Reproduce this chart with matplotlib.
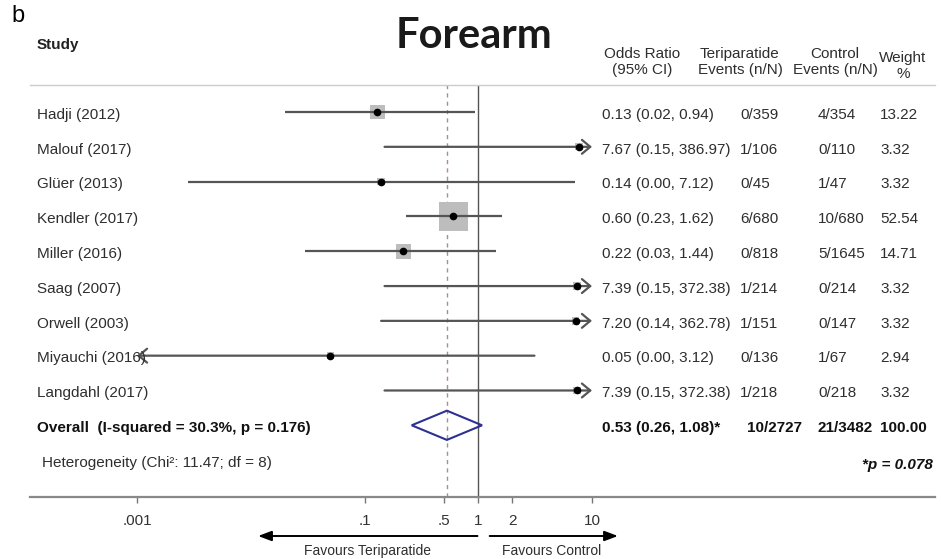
import numpy as np
import matplotlib
matplotlib.use("Agg")
import matplotlib.pyplot as plt
from matplotlib.lines import Line2D
from matplotlib.patches import Polygon
from matplotlib.transforms import blended_transform_factory

plt.rcParams['font.family'] = ['Liberation Sans', 'DejaVu Sans']

# Forest plot data: forearm fractures, teriparatide vs control
studies = ['Hadji (2012)', 'Malouf (2017)', 'Glüer (2013)', 'Kendler (2017)', 'Miller (2016)',
           'Saag (2007)', 'Orwell (2003)', 'Miyauchi (2016)', 'Langdahl (2017)']
odds_ratio = [0.13, 7.67, 0.14, 0.60, 0.22, 7.39, 7.20, 0.05, 7.39]
ci_low = [0.02, 0.15, 0.0028, 0.23, 0.03, 0.15, 0.14, 0.0008, 0.15]
ci_high = [0.94, 386.97, 7.12, 1.62, 1.44, 372.38, 362.78, 3.12, 372.38]
teri_events = ['0/359', '1/106', '0/45', '6/680', '0/818', '1/214', '1/151', '0/136', '1/218']
ctrl_events = ['4/354', '0/110', '1/47', '10/680', '5/1645', '0/214', '0/147', '1/67', '0/218']
weights = [13.22, 3.32, 3.32, 52.54, 14.71, 3.32, 3.32, 2.94, 3.32]

overall_or = 0.53
overall_ci = (0.26, 1.08)
overall_teri = '10/2727'
overall_ctrl = '21/3482'
overall_weight = 100.00

tick_vals = [0.001, 0.1, 0.5, 1, 2, 10]
tick_labels = ['.001', '.1', '.5', '1', '2', '10']

W, H = 941, 559
fig = plt.figure(figsize=(W / 100, H / 100), dpi=100)

# plot panel: x from .001 to 10 on a log scale, one row per study
ax_left, ax_right = 137, 592
ax_top, ax_bottom = 85, 497
ax = fig.add_axes([ax_left / W, 1 - ax_bottom / H, (ax_right - ax_left) / W, (ax_bottom - ax_top) / H])
ax.set_xscale('log')
ax.set_xlim(0.001, 10)
ax.set_ylim(11.06, -0.776)
for s in ax.spines.values():
    s.set_visible(False)
ax.set_yticks([])
ax.set_xticks(tick_vals)
ax.set_xticklabels(tick_labels)
ax.minorticks_off()
ax.tick_params(axis='x', length=4, width=1, color='#777777', pad=8, labelsize=11, labelcolor='#333333')
ax.patch.set_alpha(0)

lo_lim, hi_lim = ax.get_xlim()
line_col = '#555555'
rows = np.arange(len(studies))

# reference lines
ax.axvline(1, color='#555555', lw=1.0, zorder=1)
ax.axvline(overall_or, color='#b08a8a', lw=1.0, ls=(0, (3, 3)), zorder=1)

# weight boxes
side_px = 4.0 * np.sqrt(weights)
ax.scatter(odds_ratio, rows, marker='s', s=(side_px * 0.72) ** 2, color='#bdbdbd',
           edgecolor='none', zorder=2)

# confidence intervals, with arrows where they run off the scale
arrow_kw = dict(arrowstyle='->, head_length=0.6, head_width=0.5', color=line_col, lw=1.6,
                shrinkA=0, shrinkB=0)
for y, lo, hi in zip(rows, ci_low, ci_high):
    if hi > hi_lim:
        ax.annotate('', xy=(hi_lim, y), xytext=(lo, y), arrowprops=arrow_kw, zorder=3)
    elif lo < lo_lim:
        ax.annotate('', xy=(lo_lim, y), xytext=(hi, y), arrowprops=arrow_kw, zorder=3)
    else:
        ax.plot([lo, hi], [y, y], color=line_col, lw=1.6, solid_capstyle='butt', zorder=3)
ax.plot(odds_ratio, rows, 'o', color='black', ms=4.5, zorder=4)

# pooled estimate diamond
y_ov = len(studies)
dh = 0.42
diamond = Polygon([(overall_ci[0], y_ov), (overall_or, y_ov - dh), (overall_ci[1], y_ov),
                   (overall_or, y_ov + dh)], closed=True, fill=False, edgecolor='#2e3192', lw=1.5,
                  zorder=4)
ax.add_patch(diamond)

# text columns
tr = blended_transform_factory(fig.transFigure, ax.transData)
txt_col = '#2e2e2e'
fs = 11
dy = 0.08  # text sits a touch below the row line
x_study = 37 / W
x_or = 602 / W
x_teri = 740 / W
x_ctrl = 818 / W
x_wt = 880 / W

for y, name, o, lo, hi, te, ce, w in zip(rows, studies, odds_ratio, ci_low, ci_high,
                                          teri_events, ctrl_events, weights):
    ty = y + dy
    ax.text(x_study, ty, name, transform=tr, ha='left', va='center', fontsize=fs, color=txt_col)
    ax.text(x_or, ty, f'{o:.2f} ({lo:.2f}, {hi:.2f})', transform=tr, ha='left', va='center',
            fontsize=fs, color=txt_col)
    ax.text(x_teri, ty, te, transform=tr, ha='left', va='center', fontsize=fs, color=txt_col)
    ax.text(x_ctrl, ty, ce, transform=tr, ha='left', va='center', fontsize=fs, color=txt_col)
    ax.text(x_wt, ty, f'{w:.2f}', transform=tr, ha='left', va='center', fontsize=fs, color=txt_col)

ty = y_ov + dy
ax.text(x_study, ty, 'Overall  (I-squared = 30.3%, p = 0.176)', transform=tr, ha='left',
        va='center', fontsize=fs, fontweight='bold', color='#111111')
ax.text(x_or, ty, f'{overall_or:.2f} ({overall_ci[0]:.2f}, {overall_ci[1]:.2f})*', transform=tr,
        ha='left', va='center', fontsize=fs, fontweight='bold', color='#111111')
ax.text(x_teri + 7 / W, ty, overall_teri, transform=tr, ha='left', va='center', fontsize=fs,
        fontweight='bold', color='#111111')
ax.text(x_ctrl, ty, overall_ctrl, transform=tr, ha='left', va='center', fontsize=fs,
        fontweight='bold', color='#111111')
ax.text(x_wt, ty, f'{overall_weight:.2f}', transform=tr, ha='left', va='center', fontsize=fs,
        fontweight='bold', color='#111111')
ax.text(42 / W, y_ov + 1.08, 'Heterogeneity (Chi²: 11.47; df = 8)', transform=tr, ha='left',
        va='center', fontsize=fs, color=txt_col)
ax.text(933 / W, y_ov + 1.15, '*p = 0.078', transform=tr, ha='right', va='center', fontsize=fs,
        fontweight='bold', fontstyle='italic', color='#111111')

# column headers
def fy(py):
    return 1 - py / H

fig.text(18 / W, fy(16), 'b', fontsize=17, ha='center', va='center', color='black')
fig.text(474 / W, fy(36), 'Forearm', family=['Lato', 'DejaVu Sans'], fontsize=30,
         fontweight='bold', ha='center', va='center', color='#1a1a1a')
fig.text(x_study, fy(45), 'Study', fontsize=fs, fontweight='bold', ha='left', va='center',
         color='#222222')
fig.text(642 / W, fy(62), 'Odds Ratio\n(95% CI)', fontsize=fs, ha='center', va='center',
         color=txt_col, linespacing=1.1)
fig.text(740 / W, fy(62), 'Teriparatide\nEvents (n/N)', fontsize=fs, ha='center', va='center',
         color=txt_col, linespacing=1.1)
fig.text(835 / W, fy(62), 'Control\nEvents (n/N)', fontsize=fs, ha='center', va='center',
         color=txt_col, linespacing=1.1)
fig.text(903 / W, fy(66), 'Weight\n%', fontsize=fs, ha='center', va='center',
         color=txt_col, linespacing=1.1)

# full-width rules under the header and along the axis
fig.add_artist(Line2D([30 / W, 935 / W], [fy(85), fy(85)], color='#cccccc', lw=1.0))
fig.add_artist(Line2D([30 / W, 935 / W], [fy(497), fy(497)], color='#888888', lw=1.6))

# favours arrows below the axis
y_arr = (ax_bottom - 536) / (ax_bottom - ax_top)
y_fav = (ax_bottom - 551) / (ax_bottom - ax_top)
fav_kw = dict(arrowstyle='-|>, head_length=0.8, head_width=0.3', color='black', lw=1.4,
              shrinkA=0, shrinkB=0)
ax.annotate('', xy=(0.0116, y_arr), xytext=(0.985, y_arr), xycoords=('data', 'axes fraction'),
            textcoords=('data', 'axes fraction'), arrowprops=fav_kw, annotation_clip=False)
ax.annotate('', xy=(16.9, y_arr), xytext=(1.26, y_arr), xycoords=('data', 'axes fraction'),
            textcoords=('data', 'axes fraction'), arrowprops=fav_kw, annotation_clip=False)
ax.text(0.107, y_fav, 'Favours Teriparatide', transform=blended_transform_factory(ax.transData, ax.transAxes),
        ha='center', va='center', fontsize=10, color=txt_col)
ax.text(4.4, y_fav, 'Favours Control', transform=blended_transform_factory(ax.transData, ax.transAxes),
        ha='center', va='center', fontsize=10, color=txt_col)

fig.savefig('out.png', dpi=100)
